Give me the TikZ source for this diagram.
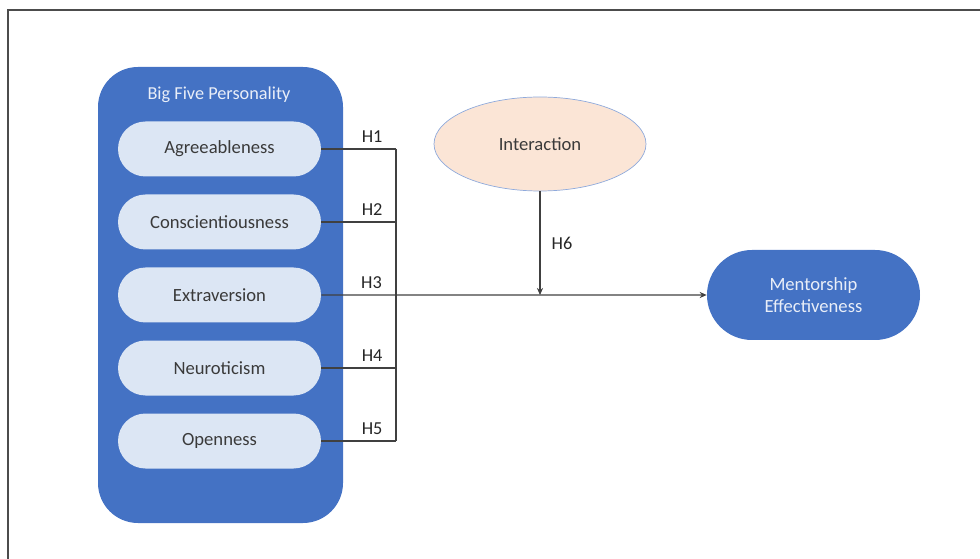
\documentclass[tikz,border=0pt]{standalone}
\usepackage{fontspec}
\setmainfont{Carlito}
\usepackage{tikz}
\usetikzlibrary{shapes.geometric,positioning,arrows.meta}

\definecolor{bfblue}{HTML}{4472C4}
\definecolor{pillblue}{HTML}{DCE6F4}
\definecolor{peach}{HTML}{FBE5D6}
\definecolor{rimblue}{HTML}{8FAADC}
\definecolor{darktext}{HTML}{3A3A3A}

\tikzset{
  trait/.style={draw=none, fill=pillblue, text=darktext, minimum width=4.06cm, minimum height=1.1cm, rounded corners=0.55cm, font=\fontsize{10.6}{12}\selectfont},
  hlink/.style={draw=black!75, line width=0.6pt},
  hlabel/.style={text=black!85, font=\fontsize{10.4}{12}\selectfont}
}

\begin{document}
\begin{tikzpicture}

\useasboundingbox (0,0) rectangle (19.6,-11.18);
\draw[black!70, line width=0.8pt] (0.16,-11.18) -- (0.16,-0.2) -- (19.6,-0.2);

\node[draw=none, fill=bfblue, minimum width=4.9cm, minimum height=9.12cm, rounded corners=0.8cm] (bigfive) at (4.41,-5.9) {};
\node[text=white!88!bfblue, font=\fontsize{10.4}{12}\selectfont] (bftitle) at (4.38,-1.9) {Big Five Personality};

\node[trait] (agree) at (4.39,-2.98) {Agreeableness};
\node[trait, below of=agree, node distance=1.46cm] (consc) {Conscientiousness};
\node[trait, below of=consc, node distance=1.46cm] (extra) {Extraversion};
\node[trait, below of=extra, node distance=1.46cm] (neuro) {Neuroticism};
\node[trait, below of=neuro, node distance=1.46cm] (open) {Openness};

\node[ellipse, draw=rimblue, fill=peach, text=darktext, minimum width=4.24cm, minimum height=1.88cm, font=\fontsize{10.6}{12}\selectfont] (inter) at (10.8,-2.88) {Interaction};

\node[draw=none, fill=bfblue, text=white!88!bfblue, minimum width=4.26cm, minimum height=1.8cm, rounded corners=0.9cm, align=center, font=\fontsize{10.6}{12.8}\selectfont] (mentor) at (16.27,-5.9) {Mentorship\\Effectiveness};

\coordinate (join) at (7.92,-5.9);

\draw[hlink] (agree.east) -- (agree.east -| join) node[pos=0.68, above, hlabel] {H1};
\draw[hlink] (consc.east) -- (consc.east -| join) node[pos=0.68, above, hlabel] {H2};
\draw[hlink] (neuro.east) -- (neuro.east -| join) node[pos=0.68, above, hlabel] {H4};
\draw[hlink] (open.east) -- (open.east -| join) node[pos=0.68, above, hlabel] {H5};
\draw[hlink] (agree.east -| join) -- (open.east -| join);

\draw[hlink, -{Stealth[length=4pt,width=3.5pt]}] (extra.east) -- (mentor.west) node[pos=0.13, above, hlabel] {H3};
\draw[hlink, -{Stealth[length=4pt,width=3.5pt]}] (inter.south) -- (inter.south |- extra.east) node[midway, right=3pt, hlabel] {H6};

\end{tikzpicture}
\end{document}
